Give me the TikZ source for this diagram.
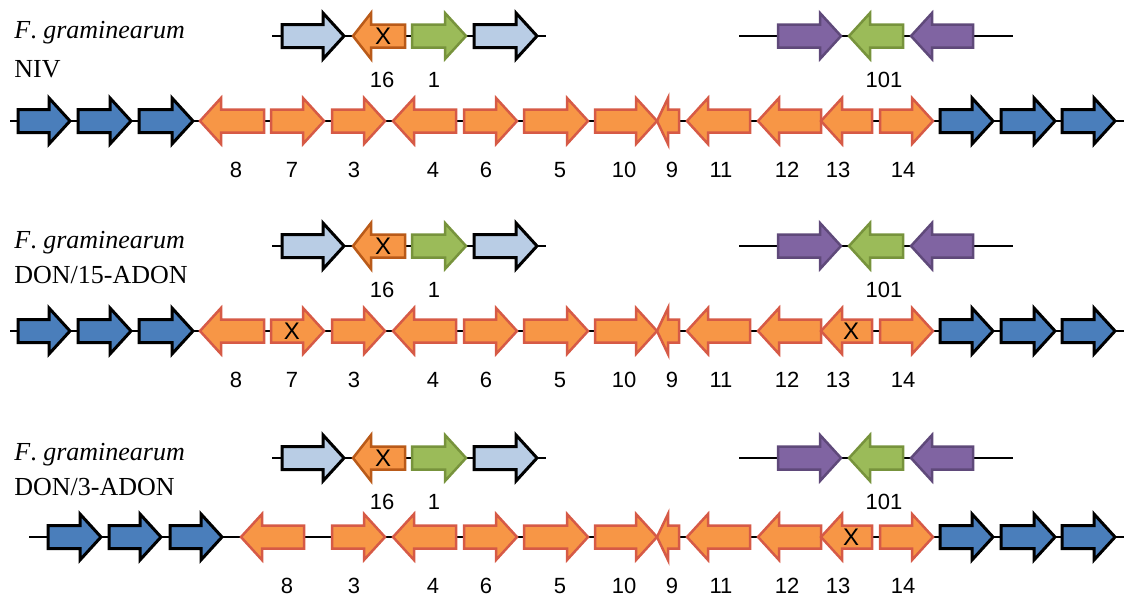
\documentclass[tikz,border=0pt]{standalone}
\usepackage{fontspec}
\setmainfont{Liberation Serif}
\newfontfamily\labfont{Liberation Sans}
\usepackage{xcolor}
\usepackage{tikz}

\definecolor{genblue}{RGB}{74,126,187}
\definecolor{genpale}{RGB}{185,205,229}
\definecolor{genorange}{RGB}{247,150,70}
\definecolor{genred}{RGB}{214,90,70}
\definecolor{genbrown}{RGB}{185,90,25}
\definecolor{gengreen}{RGB}{155,187,89}
\definecolor{gengreenline}{RGB}{119,147,60}
\definecolor{genpurple}{RGB}{128,100,162}
\definecolor{genpurpleline}{RGB}{95,73,122}

% gene arrows: [head length]{style}{left x}{right x}{y}
\newcommand{\fwd}[5][21]{\draw[#2] (#3,#5-11.5) -- (#4-#1,#5-11.5) -- (#4-#1,#5-23) -- (#4,#5) -- (#4-#1,#5+23) -- (#4-#1,#5+11.5) -- (#3,#5+11.5) -- cycle;}
\newcommand{\bwd}[5][21]{\draw[#2] (#4,#5-11.5) -- (#3+#1,#5-11.5) -- (#3+#1,#5-23) -- (#3,#5) -- (#3+#1,#5+23) -- (#3+#1,#5+11.5) -- (#4,#5+11.5) -- cycle;}

\tikzset{
  backbone/.style={line width=0.7pt, black},
  bluegene/.style={fill=genblue, draw=black, line width=1.5pt},
  palegene/.style={fill=genpale, draw=black, line width=1.5pt},
  orangegene/.style={fill=genorange, draw=genred, line width=1.25pt},
  orangedark/.style={fill=genorange, draw=genbrown, line width=1.25pt},
  greengene/.style={fill=gengreen, draw=gengreenline, line width=1.25pt},
  purplegene/.style={fill=genpurple, draw=genpurpleline, line width=1.25pt},
  lab/.style={font=\labfont\fontsize{11}{13}\selectfont, inner sep=0pt},
  xmark/.style={font=\labfont\fontsize{12}{14}\selectfont, inner sep=0pt},
  strain/.style={font=\fontsize{13}{15}\selectfont, anchor=west, inner sep=0pt}
}

\begin{document}
\begin{tikzpicture}[x=0.5pt, y=-0.5pt]
    \useasboundingbox (0,0) rectangle (1130,600);

    % strain names
    \node[strain] (sp1) at (14,33) {\textit{F}. \textit{graminearum}};
    \node[strain] (ty1) at (14,69) {NIV};
    \node[strain] (sp2) at (14,243) {\textit{F}. \textit{graminearum}};
    \node[strain] (ty2) at (14,275) {DON/15-ADON};
    \node[strain] (sp3) at (14,455) {\textit{F}. \textit{graminearum}};
    \node[strain] (ty3) at (14,487) {DON/3-ADON};

    % parts shared by the three strains
    \foreach \r/\c in {121/36, 331/246, 537/458} {
        \draw[backbone] (272,\c) -- (546,\c);
        \draw[backbone] (739,\c) -- (1013,\c);
        \draw[backbone] (320,\r) -- (1124,\r);
        \fwd{palegene}{282}{344}{\c}
        \bwd[18]{orangedark}{353}{405}{\c}
        \node[xmark] (x16-\r) at (383,\c) {X};
        \fwd{greengene}{412}{466}{\c}
        \fwd{palegene}{474}{537}{\c}
        \fwd{purplegene}{778}{841}{\c}
        \bwd{greengene}{849}{903}{\c}
        \bwd{purplegene}{911}{973}{\c}
        \node[lab] (n16-\r) at (382,\c+44) {16};
        \node[lab] (n1-\r) at (434,\c+44) {1};
        \node[lab] (n101-\r) at (884,\c+44) {101};

        \fwd{orangegene}{332}{385}{\r}
        \bwd{orangegene}{393}{456}{\r}
        \fwd{orangegene}{464}{517}{\r}
        \fwd{orangegene}{524}{588}{\r}
        \fwd{orangegene}{595}{657}{\r}
        \bwd[11]{orangegene}{657}{679}{\r}
        \bwd{orangegene}{687}{750}{\r}
        \bwd{orangegene}{758}{821}{\r}
        \bwd{orangegene}{821}{872}{\r}
        \fwd{orangegene}{880}{933}{\r}
        \fwd{bluegene}{940}{993}{\r}
        \fwd{bluegene}{1001}{1055}{\r}
        \fwd{bluegene}{1062}{1115}{\r}
        \foreach \x/\t in {354/3, 433/4, 486/6, 560/5, 624/10, 672/9, 721/11, 787/12, 838/13, 903/14}
            \node[lab] (n\t-\r) at (\x,\r+49) {\t};
    }

    % NIV and DON/15-ADON: left end
    \foreach \r in {121, 331} {
        \draw[backbone] (10,\r) -- (330,\r);
        \fwd{bluegene}{18}{70}{\r}
        \fwd{bluegene}{78}{131}{\r}
        \fwd{bluegene}{139}{193}{\r}
        \bwd{orangegene}{200}{264}{\r}
        \fwd{orangegene}{271}{324}{\r}
        \node[lab] (n8-\r) at (236,\r+49) {8};
        \node[lab] (n7-\r) at (292,\r+49) {7};
    }
    \node[xmark] (x7-331) at (292,331) {X};
    \node[xmark] (x13-331) at (851,331) {X};

    % DON/3-ADON: left end, no 7
    \draw[backbone] (29,537) -- (330,537);
    \fwd{bluegene}{48}{101}{537}
    \fwd{bluegene}{109}{161}{537}
    \fwd{bluegene}{170}{222}{537}
    \bwd{orangegene}{241}{304}{537}
    \node[lab] (n8-537) at (287,586) {8};
    \node[xmark] (x13-537) at (851,537) {X};
\end{tikzpicture}
\end{document}
